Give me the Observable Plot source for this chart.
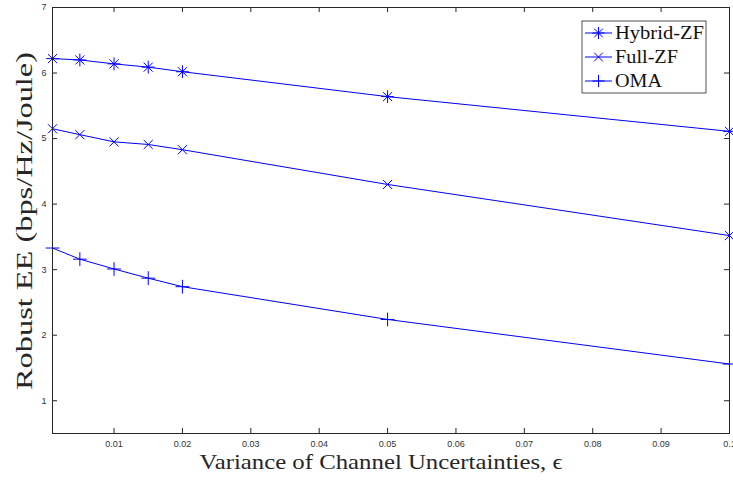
<!DOCTYPE html>
<html>
<head>
<meta charset="utf-8">
<script src="https://cdn.jsdelivr.net/npm/d3@7"></script>
<script src="https://cdn.jsdelivr.net/npm/@observablehq/plot@0.6"></script>
<style>
  html, body { margin: 0; padding: 0; background: #fff; }
  svg { display: block; }
</style>
</head>
<body>
<div id="chart"></div>
<script>
const epsilon = [0.001, 0.005, 0.01, 0.015, 0.02, 0.05, 0.1];
const hybridZF = [6.22, 6.20, 6.14, 6.09, 6.02, 5.64, 5.11];
const fullZF = [5.15, 5.06, 4.95, 4.91, 4.83, 4.30, 3.52];
const oma = [3.33, 3.16, 3.01, 2.87, 2.74, 2.24, 1.56];
const seriesNames = ["Hybrid-ZF", "Full-ZF", "OMA"];
const xTicks = [0.01, 0.02, 0.03, 0.04, 0.05, 0.06, 0.07, 0.08, 0.09, 0.1];
const xTickLabels = ["0.01", "0.02", "0.03", "0.04", "0.05", "0.06", "0.07", "0.08", "0.09", "0.1"];
const yTicks = [1, 2, 3, 4, 5, 6, 7];
const yTickLabels = ["1", "2", "3", "4", "5", "6", "7"];
const xTitle = "Variance of Channel Uncertainties, ϵ";
const yTitle = "Robust EE (bps/Hz/Joule)";

const W = 733, H = 480;
const mL = 52, mR = 4, mT = 7, mB = 47;
const pw = W - mL - mR, ph = H - mT - mB;
const blue = "#0000ff";
const axisColor = "#262626";

const rows = (vals, name) => epsilon.map((e, i) => ({x: e, y: vals[i], s: name}));
const dH = rows(hybridZF, seriesNames[0]);
const dF = rows(fullZF, seriesNames[1]);
const dO = rows(oma, seriesNames[2]);

const tickLen = 5;
const plot = Plot.plot({
  width: W, height: H,
  marginLeft: mL, marginRight: mR, marginTop: mT, marginBottom: mB,
  style: {background: "#fff", fontFamily: "'Liberation Sans', Arial, sans-serif"},
  x: {domain: [0.001, 0.1]},
  y: {domain: [0.5, 7]},
  marks: [
    Plot.tickX(xTicks, {x: d => d, insetTop: ph - tickLen, stroke: axisColor, strokeWidth: 1}),
    Plot.tickX(xTicks, {x: d => d, insetBottom: ph - tickLen, stroke: axisColor, strokeWidth: 1}),
    Plot.tickY(yTicks, {y: d => d, insetRight: pw - tickLen, stroke: axisColor, strokeWidth: 1}),
    Plot.tickY(yTicks, {y: d => d, insetLeft: pw - tickLen, stroke: axisColor, strokeWidth: 1}),
    Plot.axisX({ticks: xTicks, tickSize: 0, tickPadding: 7, tickFormat: (d, i) => xTickLabels[i], fontSize: 9, fill: "#333", label: null}),
    Plot.axisY({ticks: yTicks, tickSize: 0, tickPadding: 6, tickFormat: (d, i) => yTickLabels[i], fontSize: 9, fill: "#333", label: null}),
    Plot.line(dH, {x: "x", y: "y", stroke: blue, strokeWidth: 1}),
    Plot.line(dF, {x: "x", y: "y", stroke: blue, strokeWidth: 1}),
    Plot.line(dO, {x: "x", y: "y", stroke: blue, strokeWidth: 1}),
    Plot.dot(dH, {x: "x", y: "y", symbol: "plus", r: 4.2, stroke: blue, strokeWidth: 1}),
    Plot.dot(dH, {x: "x", y: "y", symbol: "times", r: 4.2, stroke: blue, strokeWidth: 1}),
    Plot.dot(dF, {x: "x", y: "y", symbol: "times", r: 4.2, stroke: blue, strokeWidth: 1}),
    Plot.dot(dO, {x: "x", y: "y", symbol: "plus", r: 4.5, stroke: blue, strokeWidth: 1}),
    Plot.frame({stroke: axisColor, strokeWidth: 1})
  ]
});
document.getElementById("chart").appendChild(plot);

const svg = d3.select(plot);
const serif = "'Liberation Serif', 'Times New Roman', serif";

svg.append("text")
  .attr("x", 381).attr("y", 468.5)
  .attr("text-anchor", "middle")
  .attr("font-family", serif).attr("font-size", 21).attr("fill", axisColor)
  .attr("textLength", 363).attr("lengthAdjust", "spacingAndGlyphs")
  .text(xTitle);
svg.append("text")
  .attr("transform", "translate(32,221) rotate(-90)")
  .attr("text-anchor", "middle")
  .attr("font-family", serif).attr("font-size", 24).attr("fill", axisColor)
  .attr("textLength", 338).attr("lengthAdjust", "spacingAndGlyphs")
  .text(yTitle);

const lg = svg.append("g");
lg.append("rect").attr("x", 582).attr("y", 21).attr("width", 124).attr("height", 72)
  .attr("fill", "#fff").attr("stroke", axisColor).attr("stroke-width", 0.8);
const legY = [33, 57, 81];
const legW = [89, 63, 47];
const sym = [["plus", "times"], ["times"], ["plus"]];
seriesNames.forEach((name, i) => {
  const y = legY[i];
  lg.append("line").attr("x1", 585).attr("x2", 612).attr("y1", y).attr("y2", y)
    .attr("stroke", blue).attr("stroke-width", 1);
  sym[i].forEach(s => {
    const t = s === "plus" ? d3.symbolPlus : d3.symbolTimes;
    lg.append("path").attr("d", d3.symbol(t, Math.PI * 4 * 4)())
      .attr("transform", `translate(598.5,${y})`)
      .attr("fill", "none").attr("stroke", blue).attr("stroke-width", 1);
  });
  lg.append("text").attr("x", 615).attr("y", y + 6)
    .attr("text-anchor", "start")
    .attr("font-family", serif).attr("font-size", 18).attr("fill", "#111")
    .attr("textLength", legW[i]).attr("lengthAdjust", "spacingAndGlyphs")
    .text(name);
});
</script>
</body>
</html>
